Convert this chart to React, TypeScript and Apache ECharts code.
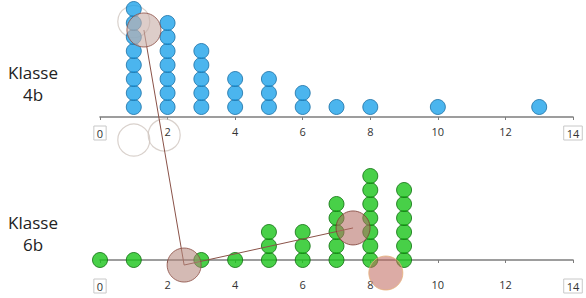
import React, { useEffect, useRef } from "react";
import * as echarts from "echarts";

// Class 4b: dot-plot values and how many pupils share each value
const values4b = [1, 2, 3, 4, 5, 6, 7, 8, 10, 13];
const counts4b = [8, 7, 5, 3, 3, 2, 1, 1, 1, 1];
// Class 6b
const values6b = [0, 1, 3, 4, 5, 6, 7, 8, 9];
const counts6b = [1, 1, 1, 1, 3, 3, 5, 7, 6];

const xTicks = [0, 2, 4, 6, 8, 10, 12, 14];
const panelLabels = ["Klasse\n4b", "Klasse\n6b"];

// Overlay circles: [x value, stack level] within each panel
const filledTop = [[1.3, 5.5]];
const filledBottom = [
  [2.49, -0.36],
  [7.49, 2.29],
  [8.46, -0.93],
];
const hollowTop = [
  [1.0, 6.1],
  [1.0, -2.36],
  [1.9, -2.0],
];
// connecting path: top circle -> bottom circle 1 -> bottom circle 2
const pathTop = [[1.3, 5.5]];
const pathBottom = [
  [2.49, -0.36],
  [7.49, 2.29],
];

export default function App() {
  const ref = useRef<HTMLDivElement>(null);
  useEffect(() => {
    if (!ref.current) return;
    const chart = echarts.init(ref.current, null, { renderer: "svg" });

    const H = 298;
    const gridLeft = 100, gridRight = 13, gridTop = 0, gridBottom = 28;
    const step = 14; // px per stacked dot
    const baseGap = 10; // px from axis to first dot centre
    const panelGap = 153; // px between the two axes
    const yMin = -baseGap / step;
    const yMax = yMin + (H - gridTop - gridBottom) / step;
    const topShift = panelGap / step;

    const dots = (vals: number[], counts: number[], shift: number) => {
      const out: number[][] = [];
      vals.forEach((v, k) => {
        for (let i = 0; i < counts[k]; i++) out.push([v, shift + i]);
      });
      return out;
    };
    const shiftPts = (pts: number[][], s: number) => pts.map((p) => [p[0], p[1] + s]);

    const axisCommon = (offset: number) => ({
      type: "value",
      gridIndex: 0,
      position: "bottom",
      offset,
      min: xTicks[0],
      max: xTicks[xTicks.length - 1],
      interval: 2,
      splitLine: { show: false },
      axisLine: { show: true, lineStyle: { color: "#7d7d7d", width: 1.6 } },
      axisTick: { show: true, length: 3, lineStyle: { color: "#7d7d7d", width: 1 } },
      axisLabel: {
        margin: 9,
        fontSize: 11,
        color: "#333",
        fontFamily: "Open Sans",
        formatter: (v: number) =>
          v === xTicks[0] || v === xTicks[xTicks.length - 1] ? `{b|${v}}` : `${v}`,
        rich: {
          b: {
            fontSize: 11,
            color: "#333",
            fontFamily: "Open Sans",
            borderColor: "#c8c8c8",
            borderWidth: 1,
            padding: [2, 3, 1, 3],
          },
        },
      },
    });

    const filledStyles = [
      { color: "rgba(180,135,125,0.72)", borderColor: "#8b4c42" },
      { color: "rgba(180,110,100,0.72)", borderColor: "#7a3a30" },
      { color: "rgba(190,100,90,0.68)", borderColor: "#e7b27a" },
    ];

    chart.setOption({
      animation: false,
      grid: { left: gridLeft, right: gridRight, top: gridTop, bottom: gridBottom },
      xAxis: [axisCommon(0), axisCommon(-panelGap)],
      yAxis: { type: "value", min: yMin, max: yMax, show: false },
      graphic: panelLabels.map((t, k) => ({
        type: "text",
        x: 33,
        y: k === 0 ? 83 : 233,
        style: {
          text: t,
          x: 0,
          y: 0,
          align: "center",
          verticalAlign: "middle",
          fontSize: 17,
          lineHeight: 22,
          fontFamily: "Open Sans",
          fill: "#222",
        },
      })),
      series: [
        {
          type: "scatter",
          xAxisIndex: 1,
          data: dots(values4b, counts4b, topShift),
          symbolSize: 15,
          itemStyle: { color: "#1ea3ea", borderColor: "#1a6fa5", borderWidth: 1 },
          z: 2,
        },
        {
          type: "scatter",
          xAxisIndex: 0,
          data: dots(values6b, counts6b, 0),
          symbolSize: 15,
          itemStyle: { color: "#1ac41a", borderColor: "#0f6f0f", borderWidth: 1 },
          z: 2,
        },
        {
          type: "scatter",
          xAxisIndex: 0,
          data: shiftPts(hollowTop, topShift),
          symbolSize: 32,
          itemStyle: { color: "rgba(255,255,255,0)", borderColor: "#cfc6bf", borderWidth: 1.2 },
          z: 1,
          clip: false,
        },
        {
          type: "line",
          xAxisIndex: 0,
          data: [...shiftPts(pathTop, topShift), ...pathBottom],
          symbol: "none",
          lineStyle: { color: "#8a5248", width: 1 },
          z: 3,
          clip: false,
        },
        {
          type: "scatter",
          xAxisIndex: 0,
          data: [
            ...shiftPts(filledTop, topShift).map((p) => ({
              value: p,
              itemStyle: { color: "rgba(200,175,168,0.78)", borderColor: "#8b4c42" },
            })),
            ...filledBottom.map((p, k) => ({ value: p, itemStyle: filledStyles[k] })),
          ],
          symbolSize: 34,
          itemStyle: { borderWidth: 1 },
          z: 4,
          clip: false,
        },
      ],
    });
    return () => chart.dispose();
  }, []);
  return (
    <div
      ref={ref}
      style={{ position: "fixed", left: 0, top: 0, width: 586, height: 298, background: "#fff" }}
    />
  );
}
